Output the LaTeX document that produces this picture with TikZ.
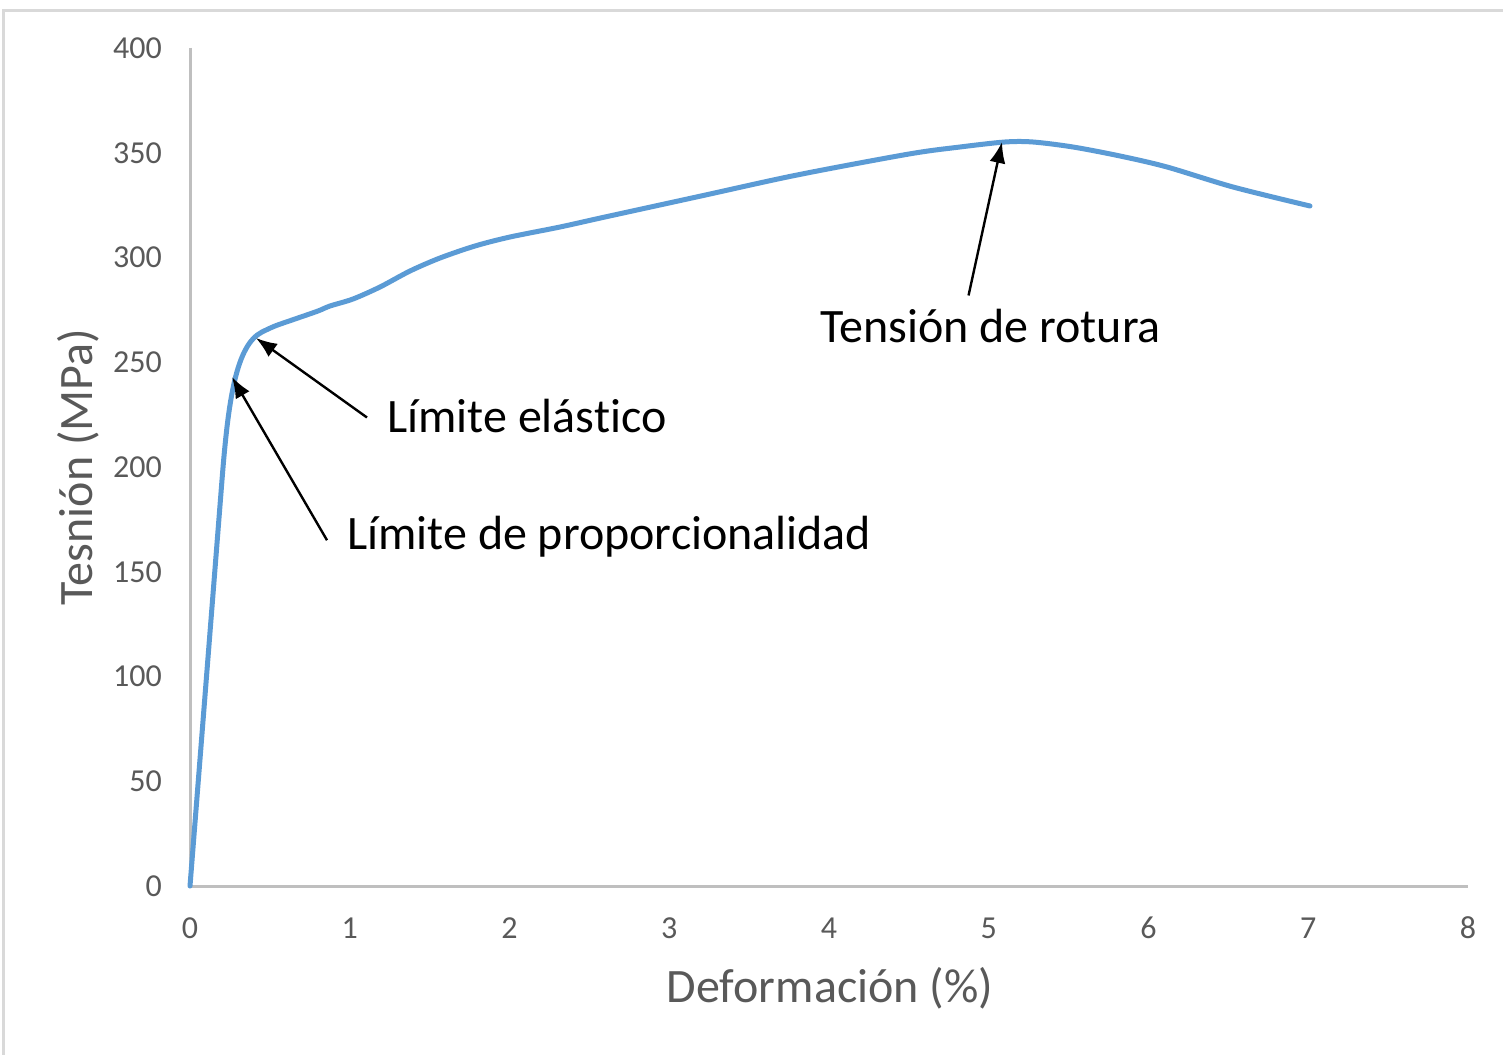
\documentclass[tikz,border=0pt]{standalone}
\usepackage{fontspec}
\setmainfont[Ligatures={NoCommon}]{Carlito}
\usetikzlibrary{arrows.meta}
\definecolor{gridgrey}{HTML}{BFBFBF}
\definecolor{framegrey}{HTML}{D9D9D9}
\definecolor{txtgrey}{HTML}{595959}
\definecolor{curveblue}{HTML}{5B9BD5}
\tikzset{
  axisline/.style={draw=gridgrey, line width=3pt},
  ticklbl/.style={text=txtgrey, font=\fontsize{32}{36}\selectfont, inner sep=0pt},
  axtitle/.style={text=txtgrey, font=\fontsize{48}{54}\selectfont, inner sep=0pt},
  annot/.style={text=black, font=\fontsize{48}{56}\selectfont, inner ysep=0pt, inner xsep=20pt},
  arr/.style={draw=black, line width=2.4pt, -{Latex[length=21pt,width=16pt]}},
  curve/.style={draw=curveblue, line width=5pt, line cap=round, line join=round}
}
\begin{document}
\begin{tikzpicture}[x=1pt,y=-1pt]
\useasboundingbox (0,0) rectangle (1503,1054);
\fill[white] (0,0) rectangle (1503,1054);
\draw[framegrey, line width=3pt] (3,1070) -- (3,11) -- (1520,11);
% axes
\coordinate (o) at (190,886);
\coordinate (ytop) at (190,48);
\coordinate (xend) at (1468,886);
\draw[axisline] (ytop) -- (o) -- (xend);
% y tick labels
\foreach \v [count=\i from 0] in {0,50,100,150,200,250,300,350,400} {
  \node[ticklbl, anchor=east] (yl\i) at (162,{886-\v*2.095}) {\v};
}
% x tick labels
\foreach \v in {0,...,8} {
  \node[ticklbl, anchor=center] (xl\v) at ({190+\v*159.75},928) {\v};
}
% titles
\node[axtitle] (xt) at (830,988) {Deformación (\%)};
\node[axtitle, rotate=90] (yt) at (78,467) {Tesnión (MPa)};
% curve
\draw[curve] (190,886) -- (222,480) .. controls (228.3,400) and (236,345) .. (262,332)
  -- plot[smooth, tension=0.5] coordinates {
 (262,332) (275,326) (295,319) (318,311) (330,306) (353,299) (380,287) (410,271)
 (440,258) (475,246) (510,237) (560,227) (605,217) (701,196) (797,175) (909,154)
 (960,147) (1005,142) (1033,142) (1073,147) (1120,156) (1167,167) (1233,187) (1310,206)};
% arrow tips
\coordinate (tipP) at (232,377);
\coordinate (tipE) at (256,338);
\coordinate (tipR) at (1002,142);
% labels
\node[annot, anchor=base west] (lp) at (327,549) {Límite de proporcionalidad};
\node[annot, anchor=base west] (le) at (367,432) {Límite elástico};
\node[annot, anchor=base west] (lr) at (800,342) {Tensión de rotura};
\draw[arr] ([yshift=-4pt]lp.west) -- (tipP);
\draw[arr] ([yshift=-2pt]le.west) -- (tipE);
\draw[arr] ([xshift=-22pt,yshift=13pt]lr.north) -- (tipR);
\end{tikzpicture}
\end{document}
